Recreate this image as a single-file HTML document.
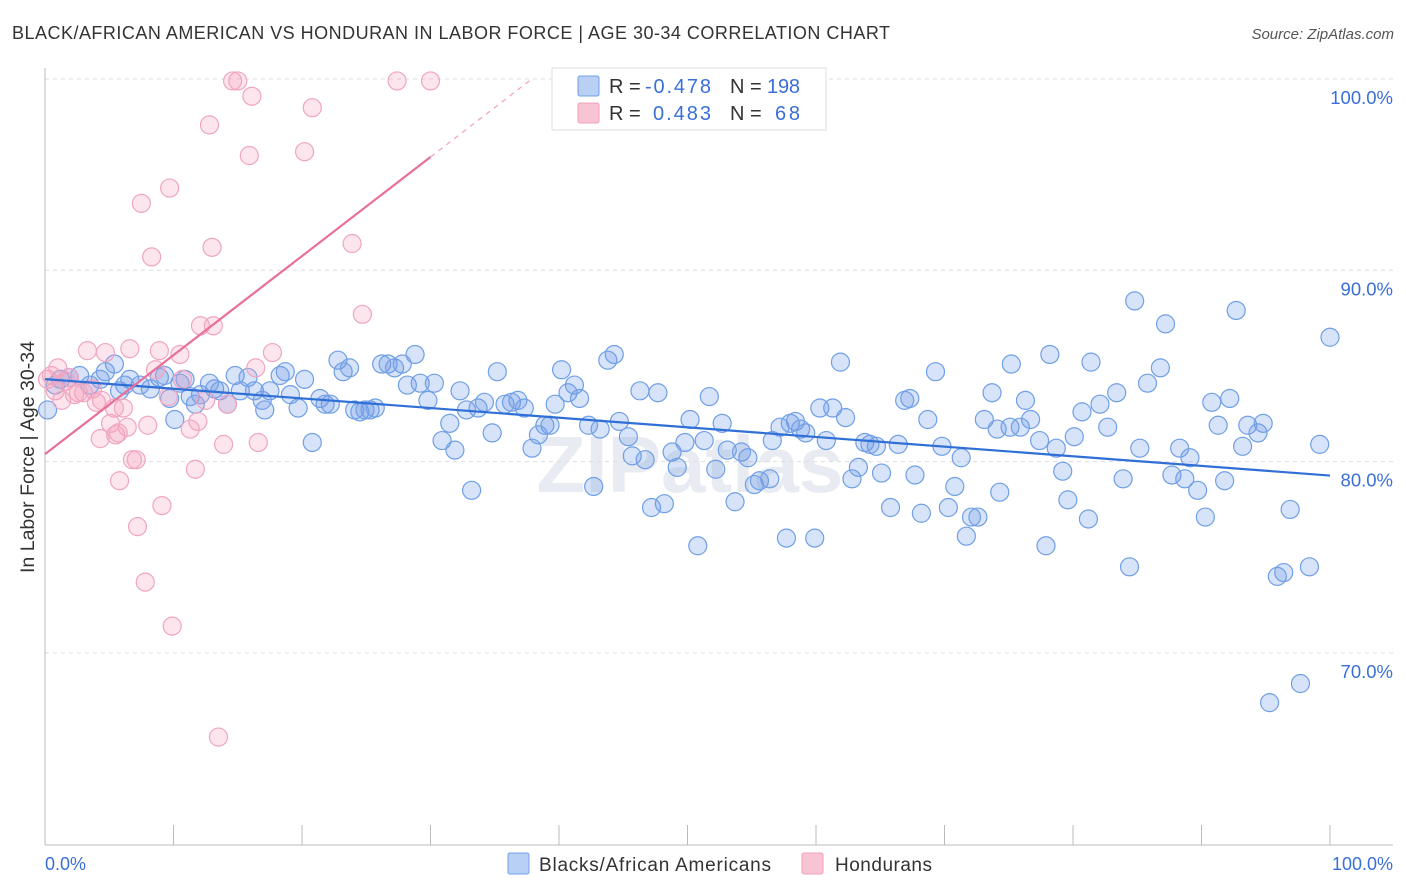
<!DOCTYPE html>
<html><head><meta charset="utf-8">
<style>
body{margin:0;background:#fff;font-family:"Liberation Sans",sans-serif;}
#wrap{position:relative;width:1406px;height:892px;overflow:hidden;}
</style></head>
<body>
<div id="wrap">
<svg id="chart" width="1406" height="892" xmlns="http://www.w3.org/2000/svg">
<text x="12" y="39" font-size="18" fill="#333" textLength="878" lengthAdjust="spacing">BLACK/AFRICAN AMERICAN VS HONDURAN IN LABOR FORCE | AGE 30-34 CORRELATION CHART</text>
<text x="1394" y="39" font-size="15" font-style="italic" fill="#555" text-anchor="end">Source: ZipAtlas.com</text>
<text x="690" y="492" font-size="80" font-weight="bold" fill="#e8ecf2" text-anchor="middle">ZIPatlas</text>
<g id="grid"></g>
<g id="pts"></g>
<g id="lines"></g>
<text transform="translate(34,457) rotate(-90)" font-size="19" fill="#333" text-anchor="middle" textLength="232" lengthAdjust="spacingAndGlyphs">In Labor Force | Age 30-34</text>
<text x="45" y="870" font-size="18" fill="#3a6fd8">0.0%</text>
<text x="1393" y="870" font-size="18" fill="#3a6fd8" text-anchor="end">100.0%</text>
<g>
<rect x="552" y="68" width="274" height="62" fill="#fff" stroke="#ddd"/>
<rect x="578" y="76" width="21" height="20" fill="#b8d0f4" stroke="#6fa0e8" rx="2"/>
<rect x="578" y="103" width="21" height="20" fill="#f8c4d4" stroke="#f0a0bc" rx="2"/>
<text x="609" y="93" font-size="20" fill="#333">R = </text>
<text x="645" y="93" font-size="20" fill="#3a6fd8" textLength="66">-0.478</text>
<text x="730" y="93" font-size="20" fill="#333">N = </text>
<text x="767" y="93" font-size="20" fill="#3a6fd8" textLength="33">198</text>
<text x="609" y="120" font-size="20" fill="#333">R = </text>
<text x="653" y="120" font-size="20" fill="#3a6fd8" textLength="58">0.483</text>
<text x="730" y="120" font-size="20" fill="#333">N = </text>
<text x="775" y="120" font-size="20" fill="#3a6fd8" textLength="25">68</text>
</g>
<g>
<rect x="508" y="853" width="21" height="21" fill="#b8d0f4" stroke="#6fa0e8" rx="2"/>
<text x="539" y="871" font-size="19" fill="#333" textLength="232">Blacks/African Americans</text>
<rect x="802" y="853" width="21" height="21" fill="#f8c4d4" stroke="#f0a0bc" rx="2"/>
<text x="835" y="871" font-size="19" fill="#333" textLength="97">Hondurans</text>
</g>
</svg>
</div>
<script>
const yTicks=[100,90,80,70];
const yTickLabels=["100.0%","90.0%","80.0%","70.0%"];
const xTicks=[0,10,20,30,40,50,60,70,80,90,100];
const blueX=[0.2,0.8,1.2,1.9,2.7,3.5,4.3,4.7,5.4,5.8,6.2,6.6,7.4,8.2,8.9,9.3,9.7,10.1,10.5,10.9,11.3,11.7,12.1,12.8,13.2,13.6,14.2,14.8,15.2,15.8,16.3,16.9,17.1,17.5,18.3,18.7,19.1,19.7,20.2,20.8,21.4,21.8,22.2,22.8,23.2,23.7,24.1,24.5,24.9,25.3,25.7,26.2,26.7,27.2,27.8,28.2,28.8,29.2,29.8,30.3,30.9,31.5,31.9,32.3,32.8,33.2,33.7,34.2,34.8,35.2,35.8,36.3,36.8,37.3,37.9,38.4,38.9,39.3,39.7,40.2,40.7,41.2,41.6,42.3,42.7,43.2,43.8,44.3,44.7,45.4,45.7,46.3,46.7,47.2,47.7,48.2,48.8,49.2,49.8,50.2,50.8,51.3,51.7,52.2,52.7,53.1,53.7,54.2,54.7,55.2,55.6,56.4,56.6,57.2,57.7,58.0,58.4,58.8,59.2,59.9,60.3,60.8,61.3,61.9,62.3,62.8,63.3,63.8,64.2,64.7,65.1,65.8,66.4,66.9,67.3,67.7,68.2,68.7,69.3,69.8,70.3,70.8,71.3,71.7,72.1,72.6,73.1,73.7,74.1,74.3,75.1,75.2,75.9,76.3,76.7,77.4,77.9,78.2,78.7,79.2,79.6,80.1,80.7,81.2,81.4,82.1,82.7,83.4,83.9,84.4,84.8,85.2,85.8,86.8,87.2,87.7,88.3,88.7,89.1,89.7,90.3,90.8,91.3,91.8,92.2,92.7,93.2,93.6,94.4,94.8,95.3,95.9,96.4,96.9,97.7,98.4,99.2,100.0];
const blueY=[82.7,84.0,84.3,84.4,84.5,84.0,84.3,84.7,85.1,83.7,84.0,84.3,84.0,83.8,84.4,84.5,83.3,82.2,84.1,84.3,83.4,83.0,83.5,84.1,83.8,83.7,83.0,84.5,83.7,84.4,83.7,83.2,82.7,83.7,84.5,84.7,83.5,82.8,84.3,81.0,83.3,83.0,83.0,85.3,84.7,84.9,82.7,82.6,82.7,82.7,82.8,85.1,85.1,84.9,85.1,84.0,85.6,84.1,83.2,84.1,81.1,82.0,80.6,83.7,82.7,78.5,82.8,83.1,81.5,84.7,83.0,83.1,83.2,82.8,80.7,81.4,81.9,81.9,83.0,84.8,83.6,84.0,83.3,81.9,78.7,81.7,85.3,85.6,82.1,81.3,80.3,83.7,80.1,77.6,83.6,77.8,80.5,79.7,81.0,82.2,75.6,81.1,83.4,79.6,82.0,80.6,77.9,80.5,80.2,78.8,79.0,79.1,81.1,81.8,76.0,82.0,82.1,81.7,81.5,76.0,82.8,81.1,82.8,85.2,82.3,79.1,79.7,81.0,80.9,80.8,79.4,77.6,80.9,83.2,83.3,79.3,77.3,82.2,84.7,80.8,77.6,78.7,80.2,76.1,77.1,77.1,82.2,83.6,81.7,78.4,81.8,85.1,81.8,83.2,82.2,81.1,75.6,85.6,80.7,79.5,78.0,81.3,82.6,77.0,85.2,83.0,81.8,83.6,79.1,74.5,88.4,80.7,84.1,84.9,87.2,79.3,80.7,79.1,80.2,78.5,77.1,83.1,81.9,79.0,83.3,87.9,80.8,81.9,81.5,82.0,67.4,74.0,74.2,77.5,68.4,74.5,80.9,86.5];
const pinkX=[0.2,0.5,0.8,1.0,1.3,1.6,1.9,2.3,2.6,3.0,3.3,3.7,4.0,4.3,4.4,4.7,5.1,5.4,5.5,5.7,5.8,6.1,6.4,6.6,6.8,7.1,7.2,7.5,7.8,8.0,8.3,8.6,8.9,9.1,9.6,9.7,9.9,10.5,10.7,11.3,11.7,11.9,12.1,12.5,12.8,13.0,13.1,13.5,13.9,14.2,14.6,15.0,15.9,16.1,16.4,16.6,17.7,20.2,20.8,23.9,24.7,27.4,30.0];
const pinkY=[84.3,84.5,83.7,84.9,83.2,84.2,84.4,83.5,83.6,83.6,85.8,83.8,83.1,81.2,83.2,85.7,82.0,82.8,81.4,81.5,79.0,82.8,81.8,85.9,80.1,80.1,76.6,93.5,73.7,81.9,90.7,84.8,85.8,77.7,83.4,94.3,71.4,85.6,84.3,81.7,79.6,82.1,87.1,83.2,97.6,91.2,87.1,65.6,80.9,83.0,99.9,99.9,96.0,99.1,84.9,81.0,85.7,96.2,98.5,91.4,87.7,99.9,99.9];

const NS="http://www.w3.org/2000/svg";
const X0=45,X1=1330,YT=79,PXPER=19.13;
const sx=v=>X0+(X1-X0)*v/100;
const sy=v=>YT+(100-v)*PXPER;
function mk(tag,attrs,parent){const e=document.createElementNS(NS,tag);for(const k in attrs)e.setAttribute(k,attrs[k]);parent.appendChild(e);return e;}
const grid=document.getElementById('grid');
yTicks.forEach((t,i)=>{
  const l=mk('line',{x1:45,x2:1393,y1:sy(t),y2:sy(t),stroke:'#dddddd','stroke-dasharray':'4,4'},grid);
  
  
  const tx=mk('text',{x:1393,y:sy(t)+25,'font-size':18.5,fill:'#3a6fd8','text-anchor':'end'},grid);
  tx.textContent=yTickLabels[i];
  
  
});
const ax=mk('line',{x1:45,x2:45,y1:68,y2:845,stroke:'#bbb'},grid);


const bx=mk('line',{x1:45,x2:1393,y1:845,y2:845,stroke:'#bbb'},grid);


xTicks.forEach(t=>{
  const l=mk('line',{x1:sx(t),x2:sx(t),y1:825,y2:845,stroke:'#bbb'},grid);
  
  
});
const pts=document.getElementById('pts');
blueX.forEach((x,i)=>{
  const c=mk('circle',{cx:sx(x),cy:sy(blueY[i]),r:9,fill:'rgba(110,155,230,0.28)',stroke:'#6f9fe6','stroke-width':1.2},pts);
  
  
});
pinkX.forEach((x,i)=>{
  const c=mk('circle',{cx:sx(x),cy:sy(pinkY[i]),r:9,fill:'rgba(245,160,190,0.28)',stroke:'#f0a5c0','stroke-width':1.2},pts);
  
  
});
function fit(xs,ys){const n=xs.length;let mx=0,my=0;for(let i=0;i<n;i++){mx+=xs[i];my+=ys[i];}mx/=n;my/=n;let sxy=0,sxx=0;for(let i=0;i<n;i++){sxy+=(xs[i]-mx)*(ys[i]-my);sxx+=(xs[i]-mx)**2;}const b=sxy/sxx;return [my-b*mx,b];}
const lines=document.getElementById('lines');
const [ba,bb]=fit(blueX,blueY);
const bl=mk('line',{x1:sx(0),y1:sy(ba),x2:sx(100),y2:sy(ba+bb*100),stroke:'#2f6fd6','stroke-width':2.2},lines);


const [pa,pb]=fit(pinkX,pinkY);
const pmax=Math.max(...pinkX);
const pl=mk('line',{x1:sx(0),y1:sy(pa),x2:sx(pmax),y2:sy(pa+pb*pmax),stroke:'#e8709a','stroke-width':2.2},lines);


const pe=Math.min(100,(100-pa)/pb);
const pd=mk('line',{x1:sx(pmax),y1:sy(pa+pb*pmax),x2:sx(pe),y2:sy(pa+pb*pe),stroke:'#f0a0bc','stroke-width':1.2,'stroke-dasharray':'5,5'},lines);


</script>
</body></html>
